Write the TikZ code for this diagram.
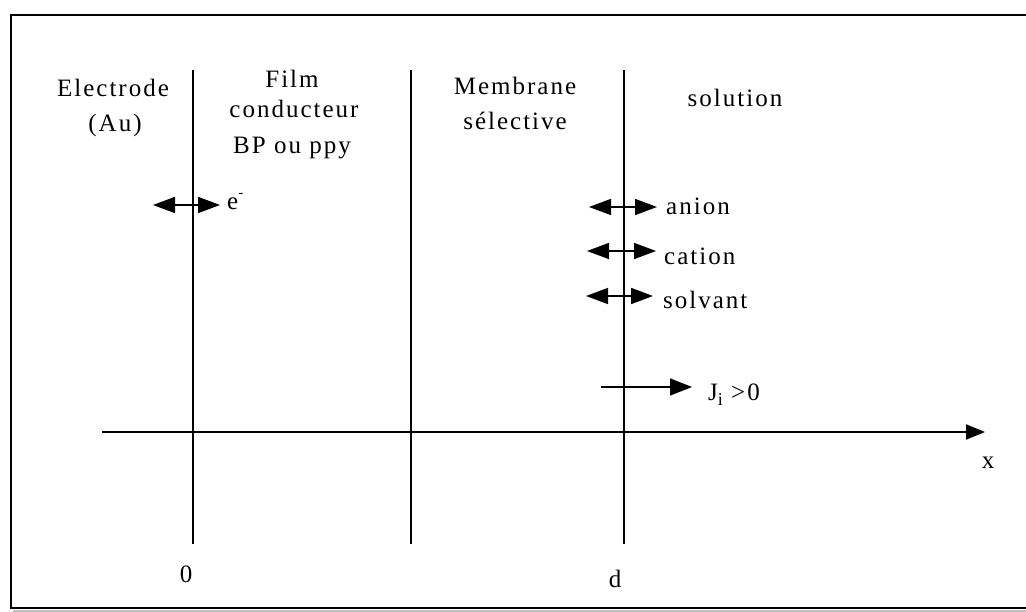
\documentclass[tikz,border=0pt]{standalone}
\usepackage{fontspec}
\setmainfont{Liberation Serif}[LetterSpace=8]
\usetikzlibrary{arrows.meta}
\definecolor{shadowgray}{RGB}{190,190,190}
\tikzset{
  lbl/.style={inner sep=0pt, font=\fontsize{25}{34}\selectfont},
  sep/.style={line width=1.5pt, black},
  dbl/.style={line width=1.6pt, {Triangle[length=22pt,width=16pt]}-{Triangle[length=22pt,width=16pt]}},
  sgl/.style={line width=1.6pt, -{Triangle[length=22pt,width=17pt]}},
  axis/.style={line width=2pt, -{Triangle[length=19pt,width=15pt]}},
  frame/.style={line width=2.2pt, black}
}
\begin{document}
\begin{tikzpicture}[x=1pt,y=-1pt]
\useasboundingbox (0,0) rectangle (1026,612);
% frame and shadow
\coordinate (fTR) at (1026,15);
\coordinate (fTL) at (11,15);
\coordinate (fBL) at (11,608);
\coordinate (fBR) at (1026,608);
\coordinate (sL) at (13,610.8);
\coordinate (sR) at (1026,610.8);
\draw[shadowgray, line width=2.6pt] (sL) -- (sR);
\draw[frame] (fTR) -- (fTL) -- (fBL) -- (fBR);
% vertical separators
\coordinate (v0t) at (193,70);  \coordinate (v0b) at (193,544);
\coordinate (v1t) at (411,70);  \coordinate (v1b) at (411,544);
\coordinate (v2t) at (624,70);  \coordinate (v2b) at (624,544);
\draw[sep] (v0t) -- (v0b);
\draw[sep] (v1t) -- (v1b);
\draw[sep] (v2t) -- (v2b);
% x axis
\coordinate (ax0) at (102,432);
\coordinate (ax1) at (985,432);
\draw[axis] (ax0) -- (ax1);
% region labels
\node[lbl, anchor=base] (elec1) at (113,97) {Electrode};
\node[lbl, anchor=base] (elec2) at (115,132) {(Au)};
\node[lbl, anchor=base] (film1) at (292,88) {Film};
\node[lbl, anchor=base] (film2) at (294,118) {conducteur};
\node[lbl, anchor=base] (film3) at (292,154) {BP ou ppy};
\node[lbl, anchor=base] (memb1) at (515,95) {Membrane};
\node[lbl, anchor=base] (memb2) at (515,130) {sélective};
\node[lbl, anchor=base] (sol) at (735,107) {solution};
% exchange arrows
\coordinate (e0) at (153,205); \coordinate (e1) at (220,205);
\draw[dbl] (e0) -- (e1);
\node[lbl, anchor=base west] (elab) at (227,210) {e\raisebox{12pt}{\fontsize{15}{15}\selectfont -}};
\coordinate (a0) at (589,207); \coordinate (a1) at (657,207);
\draw[dbl] (a0) -- (a1);
\node[lbl, anchor=base west] (anion) at (666,215) {anion};
\coordinate (c0) at (587,251); \coordinate (c1) at (656,251);
\draw[dbl] (c0) -- (c1);
\node[lbl, anchor=base west] (cation) at (664,265) {cation};
\coordinate (s0) at (586,296); \coordinate (s1) at (653,296);
\draw[dbl] (s0) -- (s1);
\node[lbl, anchor=base west] (solv) at (663,309) {solvant};
% flux arrow
\coordinate (j0) at (601,387); \coordinate (j1) at (692,387);
\draw[sgl] (j0) -- (j1);
\node[lbl, anchor=base west] (jlab) at (708,401) {J\raisebox{-5pt}{\fontsize{18}{18}\selectfont i} >0};
% axis labels
\node[lbl, anchor=base] (xlab) at (988,468) {x};
\node[lbl, anchor=base] (zero) at (186,582) {0};
\node[lbl, anchor=base] (dlab) at (615,587) {d};
\end{tikzpicture}
\end{document}
